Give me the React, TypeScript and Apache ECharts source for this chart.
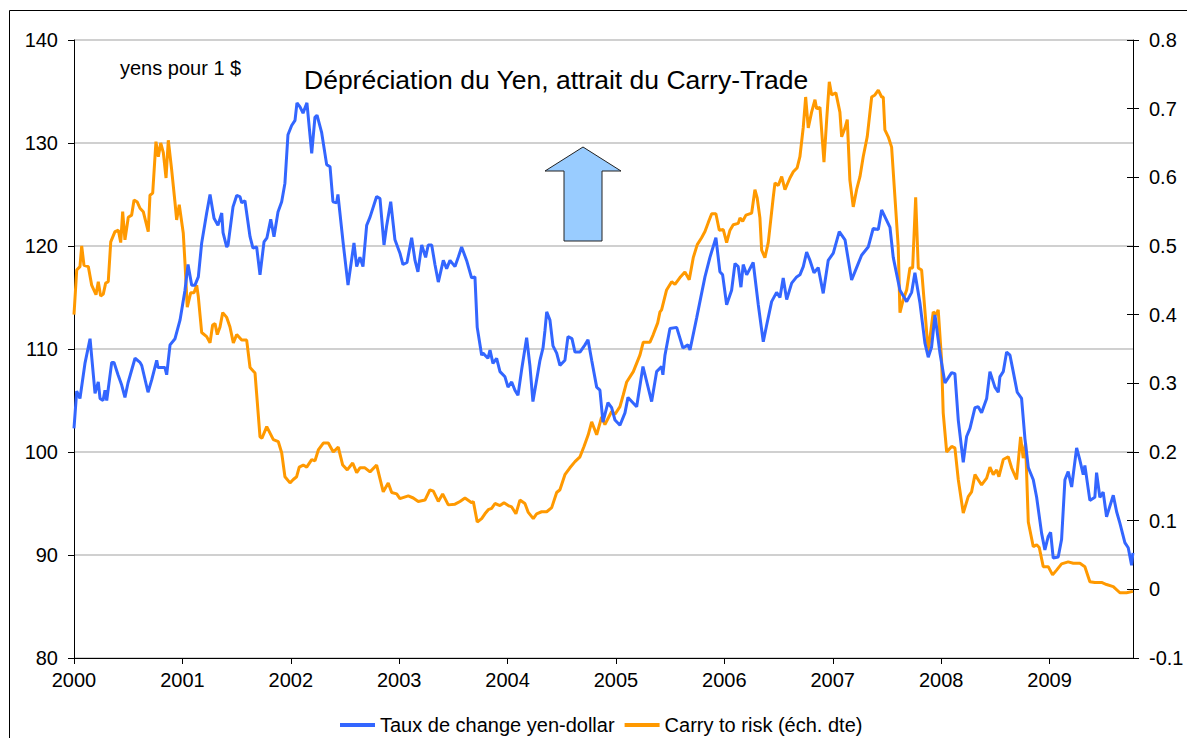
import React, { useEffect, useRef } from "react";
import * as echarts from "echarts";

// Yen-dollar exchange rate (left axis), decimal years
const fxYears = [
  2000.000, 2000.025, 2000.055, 2000.101, 2000.148, 2000.194, 2000.224, 2000.240, 2000.268, 2000.286,
  2000.302, 2000.348, 2000.369, 2000.406, 2000.440, 2000.470, 2000.498, 2000.563, 2000.609, 2000.625,
  2000.683, 2000.717, 2000.763, 2000.775, 2000.839, 2000.855, 2000.886, 2000.932, 2000.978, 2001.024,
  2001.052, 2001.086, 2001.116, 2001.147, 2001.178, 2001.224, 2001.255, 2001.292, 2001.328, 2001.363,
  2001.375, 2001.409, 2001.421, 2001.467, 2001.501, 2001.531, 2001.547, 2001.577, 2001.624, 2001.651,
  2001.685, 2001.716, 2001.753, 2001.780, 2001.815, 2001.845, 2001.882, 2001.916, 2001.946, 2001.974,
  2002.008, 2002.039, 2002.057, 2002.085, 2002.113, 2002.149, 2002.193, 2002.223, 2002.242, 2002.285,
  2002.331, 2002.362, 2002.389, 2002.423, 2002.435, 2002.482, 2002.528, 2002.583, 2002.608, 2002.638,
  2002.666, 2002.700, 2002.731, 2002.792, 2002.823, 2002.860, 2002.885, 2002.922, 2002.961, 2003.007,
  2003.035, 2003.072, 2003.115, 2003.146, 2003.173, 2003.208, 2003.244, 2003.268, 2003.300, 2003.330,
  2003.361, 2003.407, 2003.438, 2003.469, 2003.515, 2003.545, 2003.576, 2003.622, 2003.668, 2003.699,
  2003.720, 2003.761, 2003.773, 2003.819, 2003.838, 2003.865, 2003.899, 2003.930, 2003.976, 2004.004,
  2004.038, 2004.068, 2004.096, 2004.130, 2004.176, 2004.207, 2004.234, 2004.299, 2004.327, 2004.345,
  2004.361, 2004.391, 2004.419, 2004.453, 2004.483, 2004.529, 2004.557, 2004.594, 2004.622, 2004.668,
  2004.714, 2004.742, 2004.776, 2004.822, 2004.852, 2004.880, 2004.926, 2004.960, 2004.991, 2005.037,
  2005.083, 2005.111, 2005.191, 2005.249, 2005.329, 2005.375, 2005.421, 2005.433, 2005.452, 2005.498,
  2005.560, 2005.618, 2005.664, 2005.683, 2005.744, 2005.790, 2005.821, 2005.867, 2005.922, 2005.959,
  2005.984, 2006.021, 2006.067, 2006.098, 2006.128, 2006.153, 2006.174, 2006.206, 2006.266, 2006.313,
  2006.359, 2006.390, 2006.436, 2006.482, 2006.513, 2006.543, 2006.575, 2006.621, 2006.667, 2006.697,
  2006.728, 2006.759, 2006.790, 2006.827, 2006.866, 2006.912, 2006.958, 2007.005, 2007.060, 2007.113,
  2007.174, 2007.220, 2007.266, 2007.327, 2007.373, 2007.420, 2007.451, 2007.528, 2007.558, 2007.620,
  2007.682, 2007.728, 2007.758, 2007.804, 2007.850, 2007.881, 2007.912, 2007.943, 2007.989, 2008.035,
  2008.097, 2008.127, 2008.158, 2008.204, 2008.235, 2008.266, 2008.312, 2008.342, 2008.373, 2008.420,
  2008.450, 2008.496, 2008.527, 2008.542, 2008.573, 2008.604, 2008.635, 2008.665, 2008.702, 2008.742,
  2008.773, 2008.804, 2008.850, 2008.881, 2008.927, 2008.957, 2008.988, 2009.010, 2009.034, 2009.080,
  2009.111, 2009.142, 2009.172, 2009.204, 2009.250, 2009.280, 2009.311, 2009.326, 2009.372, 2009.418,
  2009.434, 2009.464, 2009.495, 2009.526, 2009.588, 2009.619, 2009.649, 2009.695, 2009.726, 2009.757,
  2009.769,
];
const fxValues = [
  102.3, 105.9, 105.2, 108.6, 111.0, 105.7, 106.8, 105.2, 105.0, 106.0,
  105.0, 108.7, 108.7, 107.5, 106.5, 105.3, 106.7, 109.1, 108.7, 108.4,
  105.8, 107.0, 108.9, 108.2, 108.2, 107.5, 110.4, 111.0, 112.8, 115.7,
  118.2, 116.2, 116.2, 117.0, 120.3, 123.2, 125.0, 122.7, 122.0, 123.2,
  121.3, 119.9, 120.1, 123.8, 124.9, 124.8, 124.2, 124.4, 120.9, 119.8,
  119.9, 117.2, 120.4, 120.8, 122.6, 120.9, 123.3, 124.3, 126.1, 130.8,
  131.7, 132.2, 133.9, 133.5, 132.9, 133.9, 129.0, 132.5, 132.7, 131.0,
  127.9, 127.7, 124.3, 124.2, 125.0, 120.4, 116.2, 120.3, 118.0, 118.9,
  118.0, 122.0, 122.8, 124.8, 124.6, 120.1, 122.0, 124.3, 120.6, 119.3,
  118.2, 118.4, 120.8, 118.6, 117.5, 120.1, 118.9, 120.1, 120.1, 118.2,
  116.5, 118.6, 117.8, 118.6, 118.0, 118.9, 119.9, 118.6, 116.9, 117.0,
  112.1, 109.4, 109.6, 109.1, 109.9, 108.6, 109.1, 107.8, 107.3, 106.3,
  106.8, 106.0, 105.5, 108.0, 111.1, 108.3, 104.9, 108.9, 110.1, 111.8,
  113.6, 112.8, 110.3, 109.6, 108.4, 108.9, 111.2, 111.0, 109.7, 109.7,
  110.4, 110.9, 108.9, 106.3, 106.0, 102.9, 104.8, 104.3, 103.1, 102.6,
  103.8, 105.3, 104.4, 108.3, 104.9, 107.8, 108.3, 107.5, 109.4, 112.0,
  112.1, 110.1, 110.4, 109.9, 113.0, 115.4, 117.0, 118.9, 120.8, 117.5,
  117.2, 114.3, 115.7, 118.3, 118.0, 116.0, 118.2, 117.2, 118.4, 114.3,
  110.7, 112.3, 114.6, 115.5, 115.0, 116.9, 114.8, 116.4, 117.0, 117.2,
  118.0, 119.4, 118.6, 117.4, 117.9, 115.4, 118.6, 119.3, 121.4, 120.6,
  116.7, 117.9, 119.1, 119.9, 121.7, 121.6, 123.5, 121.8, 118.9, 115.7,
  114.6, 115.5, 117.4, 114.5, 110.6, 109.2, 110.2, 113.3, 109.6, 106.7,
  107.7, 107.6, 103.1, 99.0, 101.5, 102.3, 104.3, 104.4, 103.8, 105.2,
  107.8, 106.3, 105.8, 107.3, 107.8, 109.7, 109.4, 107.8, 105.8, 105.2,
  101.3, 98.5, 97.3, 95.6, 92.1, 90.5, 91.8, 92.2, 89.7, 89.8,
  91.5, 97.3, 98.1, 96.6, 100.4, 99.2, 97.8, 98.7, 95.3, 95.6,
  98.0, 95.6, 96.1, 93.7, 95.8, 94.2, 93.1, 91.2, 90.7, 89.0,
  90.2,
];

// Carry to risk (right axis), decimal years
const carryYears = [
  2000.000, 2000.025, 2000.055, 2000.071, 2000.092, 2000.132, 2000.163, 2000.203, 2000.224, 2000.246,
  2000.270, 2000.292, 2000.316, 2000.339, 2000.378, 2000.409, 2000.431, 2000.449, 2000.470, 2000.501,
  2000.532, 2000.554, 2000.584, 2000.609, 2000.639, 2000.685, 2000.701, 2000.726, 2000.756, 2000.778,
  2000.800, 2000.824, 2000.849, 2000.870, 2000.901, 2000.932, 2000.947, 2000.971, 2001.008, 2001.024,
  2001.045, 2001.077, 2001.107, 2001.132, 2001.147, 2001.178, 2001.224, 2001.255, 2001.279, 2001.301,
  2001.322, 2001.347, 2001.372, 2001.409, 2001.439, 2001.470, 2001.501, 2001.547, 2001.593, 2001.624,
  2001.670, 2001.716, 2001.734, 2001.778, 2001.839, 2001.885, 2001.916, 2001.946, 2001.993, 2002.023,
  2002.054, 2002.078, 2002.115, 2002.147, 2002.193, 2002.223, 2002.254, 2002.300, 2002.346, 2002.392,
  2002.438, 2002.479, 2002.521, 2002.571, 2002.608, 2002.638, 2002.684, 2002.731, 2002.792, 2002.853,
  2002.899, 2002.931, 2002.977, 2003.007, 2003.084, 2003.130, 2003.176, 2003.238, 2003.284, 2003.315,
  2003.361, 2003.401, 2003.453, 2003.515, 2003.561, 2003.607, 2003.669, 2003.684, 2003.720, 2003.761,
  2003.791, 2003.822, 2003.853, 2003.884, 2003.930, 2003.967, 2004.006, 2004.038, 2004.077, 2004.114,
  2004.160, 2004.191, 2004.237, 2004.268, 2004.314, 2004.361, 2004.407, 2004.453, 2004.483, 2004.529,
  2004.575, 2004.622, 2004.668, 2004.705, 2004.744, 2004.776, 2004.822, 2004.868, 2004.898, 2004.960,
  2004.991, 2005.037, 2005.067, 2005.099, 2005.160, 2005.221, 2005.252, 2005.314, 2005.344, 2005.385,
  2005.406, 2005.421, 2005.467, 2005.514, 2005.544, 2005.590, 2005.636, 2005.676, 2005.713, 2005.750,
  2005.790, 2005.821, 2005.851, 2005.883, 2005.922, 2005.953, 2005.990, 2006.021, 2006.052, 2006.082,
  2006.128, 2006.144, 2006.169, 2006.199, 2006.252, 2006.282, 2006.303, 2006.328, 2006.344, 2006.374,
  2006.405, 2006.451, 2006.467, 2006.497, 2006.529, 2006.559, 2006.605, 2006.636, 2006.672, 2006.697,
  2006.728, 2006.750, 2006.774, 2006.805, 2006.836, 2006.851, 2006.882, 2006.919, 2006.944, 2006.968,
  2006.990, 2007.029, 2007.066, 2007.082, 2007.113, 2007.134, 2007.158, 2007.189, 2007.220, 2007.251,
  2007.281, 2007.318, 2007.359, 2007.389, 2007.420, 2007.451, 2007.466, 2007.481, 2007.512, 2007.543,
  2007.604, 2007.620, 2007.650, 2007.682, 2007.712, 2007.737, 2007.765, 2007.789, 2007.820, 2007.881,
  2007.927, 2007.952, 2007.973, 2008.004, 2008.019, 2008.051, 2008.097, 2008.127, 2008.158, 2008.204,
  2008.250, 2008.281, 2008.312, 2008.373, 2008.420, 2008.450, 2008.481, 2008.512, 2008.533, 2008.573,
  2008.619, 2008.650, 2008.696, 2008.733, 2008.757, 2008.779, 2008.804, 2008.850, 2008.881, 2008.905,
  2008.942, 2008.988, 2009.028, 2009.065, 2009.111, 2009.172, 2009.219, 2009.280, 2009.326, 2009.372,
  2009.418, 2009.480, 2009.526, 2009.588, 2009.649, 2009.711, 2009.769,
];
const carryValues = [
  0.400, 0.465, 0.470, 0.500, 0.472, 0.470, 0.443, 0.429, 0.448, 0.427,
  0.430, 0.446, 0.448, 0.506, 0.521, 0.523, 0.505, 0.550, 0.509, 0.542,
  0.545, 0.567, 0.564, 0.555, 0.550, 0.521, 0.574, 0.577, 0.652, 0.630,
  0.650, 0.636, 0.599, 0.654, 0.611, 0.563, 0.538, 0.560, 0.519, 0.475,
  0.411, 0.432, 0.432, 0.443, 0.426, 0.374, 0.368, 0.359, 0.385, 0.387,
  0.371, 0.382, 0.403, 0.396, 0.382, 0.359, 0.371, 0.363, 0.363, 0.323,
  0.315, 0.222, 0.220, 0.237, 0.218, 0.215, 0.199, 0.164, 0.155, 0.160,
  0.164, 0.178, 0.181, 0.178, 0.189, 0.187, 0.203, 0.213, 0.213, 0.200,
  0.207, 0.181, 0.174, 0.184, 0.170, 0.177, 0.177, 0.171, 0.181, 0.142,
  0.155, 0.141, 0.139, 0.132, 0.136, 0.133, 0.128, 0.130, 0.145, 0.143,
  0.128, 0.139, 0.123, 0.124, 0.128, 0.133, 0.126, 0.128, 0.098, 0.103,
  0.110, 0.116, 0.118, 0.125, 0.122, 0.126, 0.122, 0.120, 0.110, 0.130,
  0.125, 0.112, 0.103, 0.110, 0.113, 0.113, 0.119, 0.141, 0.145, 0.167,
  0.177, 0.186, 0.193, 0.208, 0.225, 0.244, 0.225, 0.251, 0.240, 0.259,
  0.255, 0.266, 0.283, 0.302, 0.317, 0.341, 0.360, 0.360, 0.371, 0.388,
  0.404, 0.407, 0.436, 0.448, 0.444, 0.454, 0.462, 0.451, 0.483, 0.502,
  0.512, 0.521, 0.534, 0.547, 0.547, 0.523, 0.524, 0.505, 0.523, 0.531,
  0.533, 0.541, 0.536, 0.545, 0.548, 0.582, 0.570, 0.541, 0.494, 0.483,
  0.505, 0.571, 0.592, 0.588, 0.601, 0.582, 0.599, 0.608, 0.614, 0.630,
  0.673, 0.717, 0.672, 0.695, 0.713, 0.700, 0.702, 0.622, 0.684, 0.739,
  0.720, 0.723, 0.695, 0.659, 0.672, 0.684, 0.596, 0.557, 0.582, 0.601,
  0.630, 0.659, 0.717, 0.720, 0.727, 0.717, 0.717, 0.669, 0.659, 0.644,
  0.499, 0.403, 0.422, 0.436, 0.468, 0.468, 0.571, 0.468, 0.465, 0.346,
  0.404, 0.400, 0.407, 0.334, 0.257, 0.200, 0.208, 0.206, 0.160, 0.111,
  0.135, 0.142, 0.167, 0.152, 0.162, 0.178, 0.167, 0.174, 0.164, 0.189,
  0.193, 0.177, 0.160, 0.222, 0.191, 0.213, 0.098, 0.062, 0.065, 0.061,
  0.033, 0.033, 0.021, 0.028, 0.037, 0.040, 0.038, 0.038, 0.033, 0.011,
  0.010, 0.010, 0.007, 0.004, -0.005, -0.005, -0.003,
];

const seriesNames = ["Taux de change yen-dollar", "Carry to risk (éch. dte)"];
const chartTitle = "Dépréciation du Yen, attrait du Carry-Trade";
const unitLabel = "yens pour 1 $";

const FONT = "'Liberation Sans', Arial, sans-serif";

export default function App() {
  const ref = useRef<HTMLDivElement>(null);

  useEffect(() => {
    if (!ref.current) return;
    const chart = echarts.init(ref.current, undefined, { renderer: "svg" });
    const fxData = fxYears.map((y, i) => [y, fxValues[i]]);
    const carryData = carryYears.map((y, i) => [y, carryValues[i]]);

    chart.setOption({
      animation: false,
      backgroundColor: "#ffffff",
      textStyle: { fontFamily: FONT },
      grid: { left: 74, right: 54, top: 40, bottom: 80, containLabel: false },
      legend: {
        left: 340,
        top: 713,
        padding: 0,
        icon: "rect",
        itemWidth: 35,
        itemHeight: 4,
        itemGap: 10,
        textStyle: { fontSize: 20, color: "#000", fontFamily: FONT, lineHeight: 24 },
        data: seriesNames,
      },
      xAxis: {
        type: "value",
        min: 2000,
        max: 2009.77,
        interval: 1,
        axisLine: { onZero: false, lineStyle: { color: "#000", width: 1 } },
        axisTick: { show: true, length: 6, lineStyle: { color: "#000" } },
        axisLabel: {
          color: "#000",
          fontSize: 20,
          fontFamily: FONT,
          margin: 12,
          showMaxLabel: false,
          formatter: (v: number) => (Math.abs(v - Math.round(v)) < 1e-6 ? String(Math.round(v)) : ""),
        },
        splitLine: { show: false },
      },
      yAxis: [
        {
          type: "value",
          min: 80,
          max: 140,
          interval: 10,
          position: "left",
          axisLine: { show: true, onZero: false, lineStyle: { color: "#000", width: 1 } },
          axisTick: { show: true, length: 6, lineStyle: { color: "#000" } },
          axisLabel: { color: "#000", fontSize: 20, fontFamily: FONT, margin: 16 },
          splitLine: { show: true, lineStyle: { color: "#c0c0c0", width: 1.5 } },
        },
        {
          type: "value",
          min: -0.1,
          max: 0.8,
          interval: 0.1,
          position: "right",
          axisLine: { show: true, onZero: false, lineStyle: { color: "#000", width: 1 } },
          axisTick: { show: true, length: 6, lineStyle: { color: "#000" } },
          axisLabel: {
            color: "#000",
            fontSize: 20,
            fontFamily: FONT,
            margin: 16,
            formatter: (v: number) => String(Math.round(v * 10) / 10),
          },
          splitLine: { show: false },
        },
        {
          type: "value",
          min: -0.1,
          max: 0.8,
          interval: 0.1,
          position: "right",
          axisLine: { show: false, onZero: false },
          axisTick: { show: true, inside: true, length: 6, lineStyle: { color: "#000" } },
          axisLabel: { show: false },
          splitLine: { show: false },
        },
      ],
      series: [
        {
          name: seriesNames[0],
          type: "line",
          yAxisIndex: 0,
          data: fxData,
          showSymbol: false,
          symbol: "none",
          lineStyle: { color: "#3366FF", width: 3 },
          itemStyle: { color: "#3366FF" },
          z: 3,
        },
        {
          name: seriesNames[1],
          type: "line",
          yAxisIndex: 1,
          data: carryData,
          showSymbol: false,
          symbol: "none",
          lineStyle: { color: "#FF9900", width: 3 },
          itemStyle: { color: "#FF9900" },
          z: 2,
        },
      ],
      graphic: [
        {
          type: "rect",
          silent: true,
          z: 0,
          shape: { x: 9.5, y: 10.5, width: 1300, height: 900 },
          style: { fill: "none", stroke: "#000", lineWidth: 1 },
        },
        {
          type: "text",
          x: 120,
          y: 68,
          silent: true,
          style: { text: unitLabel, fill: "#000", fontSize: 20, fontFamily: FONT, verticalAlign: "middle" },
        },
        {
          type: "text",
          x: 304,
          y: 80,
          silent: true,
          style: { text: chartTitle, fill: "#000", fontSize: 26.5, fontFamily: FONT, verticalAlign: "middle" },
        },
        {
          type: "polygon",
          silent: true,
          shape: {
            points: [
              [583, 147],
              [621, 171],
              [602, 171],
              [602, 241],
              [564, 241],
              [564, 171],
              [545, 171],
            ],
          },
          style: { fill: "#99CCFF", stroke: "#222", lineWidth: 1 },
        },
      ],
    });

    return () => chart.dispose();
  }, []);

  return (
    <div
      ref={ref}
      style={{ position: "absolute", left: 0, top: 0, width: 1187, height: 738 }}
    />
  );
}
